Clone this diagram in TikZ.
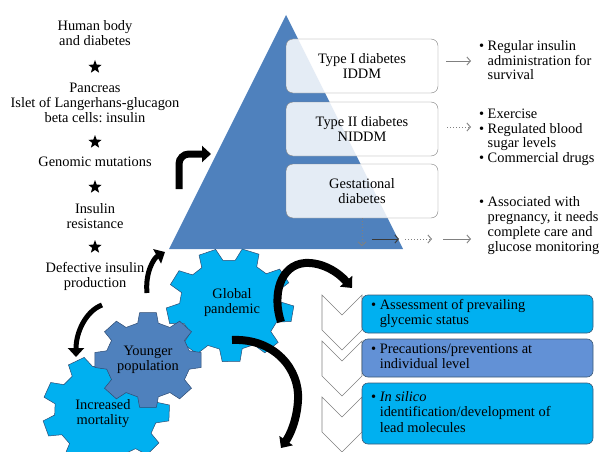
\documentclass[tikz,border=0pt]{standalone}
\usepackage{fontspec}
\setmainfont{Liberation Serif}
\usetikzlibrary{arrows.meta,shapes.geometric}
\definecolor{triblue}{RGB}{79,129,189}
\definecolor{lblue}{RGB}{0,176,240}
\definecolor{mblue}{RGB}{98,145,214}
\definecolor{gline}{RGB}{45,75,115}
\definecolor{boxline}{RGB}{60,90,120}
\frenchspacing
\begin{document}
\begin{tikzpicture}[x=1pt,y=-1pt,
  txt/.style={font=\fontsize{14.4}{15}\selectfont, align=center, inner sep=0pt},
  lst/.style={font=\fontsize{14.4}{14.7}\selectfont, inner sep=0pt, anchor=base west},
  starmark/.style={star, star points=5, star point ratio=2.4, fill=black, minimum size=14pt, inner sep=0pt},
  tbox/.style={draw=gray, fill=white, fill opacity=0.85, text opacity=1, rounded corners=7pt,
    minimum width=152pt, minimum height=54pt, align=center, inner sep=0pt,
    font=\fontsize{14.4}{15.5}\selectfont},
  bbox/.style={draw=boxline, line width=0.6pt, rounded corners=6pt, minimum width=231pt, inner sep=0pt,
    font=\fontsize{14.4}{15.5}\selectfont},
  chev/.style={draw=gray, fill=white, line width=0.6pt},
  garrow/.style={draw=gray, line width=0.9pt, -{Straight Barb[length=3.5pt,width=8pt]}},
  darrow/.style={garrow, dash pattern=on 1pt off 2pt},
  gearL/.style={fill=lblue, draw=gline, line width=0.5pt},
  gearD/.style={fill=triblue, draw=gline, line width=0.5pt},
  barrow/.style={draw=black, line width=#1, -{Triangle[length=9pt,width=16pt]}},
]
\useasboundingbox (0,0) rectangle (602,452);

% pyramid
\fill[triblue] (169,249) -- (286,15) -- (403,249) -- cycle;

% type boxes
\node[tbox] (ty1) at (362,66) {Type I diabetes\\IDDM};
\node[tbox] (ty2) at (362,129) {Type II diabetes\\NIDDM};
\node[tbox] (ty3) at (362,191) {Gestational\\diabetes};

% right arrows
\coordinate (a1s) at (446,61); \coordinate (a1e) at (471,61);
\draw[garrow] (a1s) -- (a1e);
\coordinate (a2s) at (447,127); \coordinate (a2e) at (471,127);
\draw[darrow] (a2s) -- (a2e);
\coordinate (a3e) at (362,246);
\draw[darrow] (ty3.south) -- (a3e);
\coordinate (a4s) at (372,239); \coordinate (a4e) at (399,239);
\draw[garrow, draw=gray!45!black] (a4s) -- (a4e);
\coordinate (a5s) at (405,239); \coordinate (a5e) at (432,239);
\draw[darrow] (a5s) -- (a5e);
\coordinate (a6s) at (443,239); \coordinate (a6e) at (471,239);
\draw[garrow] (a6s) -- (a6e);

% right lists
\node[lst] (r1) at (479,50.5) {\begin{tabular}[t]{@{}l@{\hspace{3.5pt}}l@{}}\textbullet & Regular insulin\\ & administration for\\ & survival\end{tabular}};
\node[lst] (r2) at (479,118.5) {\begin{tabular}[t]{@{}l@{\hspace{3.5pt}}l@{}}\textbullet & Exercise\\ \textbullet & Regulated blood\\ & sugar levels\\ \textbullet & Commercial drugs\end{tabular}};
\node[lst, font=\fontsize{14.4}{15}\selectfont] (r3) at (479,206.5) {\begin{tabular}[t]{@{}l@{\hspace{3.5pt}}l@{}}\textbullet & Associated with\\ & pregnancy, it needs\\ & complete care and\\ & glucose monitoring\end{tabular}};

% left column
\node[txt] (l1) at (95,33.5) {Human body\\and diabetes};
\node[starmark] (s1) at (95,67) {};
\node[txt] (l2) at (95,102.5) {Pancreas\\Islet of Langerhans-glucagon\\beta cells: insulin};
\node[starmark] (s2) at (95,142) {};
\node[txt] (l3) at (95,161.5) {Genomic mutations};
\node[starmark] (s3) at (95,187) {};
\node[txt] (l4) at (95,216) {Insulin\\resistance};
\node[starmark] (s4) at (95,247) {};
\node[txt] (l5) at (95,276) {Defective insulin\\production};

% chevrons
\draw[chev] (322,295) -- (342,315) -- (362,295) -- (362,330) -- (342,350) -- (322,330) -- cycle;
\draw[chev] (322,341) -- (342,361) -- (362,341) -- (362,376) -- (342,396) -- (322,376) -- cycle;
\draw[chev] (322,397) -- (342,417) -- (362,397) -- (362,432) -- (342,452) -- (322,432) -- cycle;

% bottom boxes
\node[bbox, fill=lblue, minimum height=38pt] (b1) at (477.5,314) {\begin{tabular}{@{}l@{\hspace{3.5pt}}p{204pt}@{}}\textbullet & Assessment of prevailing\\ & glycemic status\end{tabular}};
\node[bbox, fill=mblue, minimum height=38pt] (b2) at (477.5,358) {\begin{tabular}{@{}l@{\hspace{3.5pt}}p{204pt}@{}}\textbullet & Precautions/preventions at\\ & individual level\end{tabular}};
\node[bbox, fill=lblue, minimum height=61pt] (b3) at (477.5,413.5) {\begin{tabular}{@{}l@{\hspace{3.5pt}}p{204pt}@{}}\textbullet & \textit{In silico}\\ & identification/development of\\ & lead molecules\end{tabular}};

% gears
\begin{scope}[shift={(106,411)}, xscale=1.12]
\path[gearL] ({202-13}:46) \foreach \i in {0,...,8}{
  -- ({202+\i*40-13}:46) -- ({202+\i*40-8}:57) -- ({202+\i*40+8}:57) -- ({202+\i*40+13}:46)} -- cycle;
\end{scope}
\begin{scope}[shift={(230,305)}, xscale=1.12]
\path[gearL] ({9-13}:45) \foreach \i in {0,...,8}{
  -- ({9+\i*40-13}:45) -- ({9+\i*40-8}:57) -- ({9+\i*40+8}:57) -- ({9+\i*40+13}:45)} -- cycle;
\end{scope}
\begin{scope}[shift={(148,360)}, xscale=1.12]
\path[gearD] ({0-14}:38) \foreach \i in {0,...,7}{
  -- ({\i*45-14}:38) -- ({\i*45-9}:48) -- ({\i*45+9}:48) -- ({\i*45+14}:38)} -- cycle;
\end{scope}
\node[txt] (g1) at (232,303) {Global\\pandemic};
\node[txt] (g2) at (148,359.5) {Younger\\population};
\node[txt] (g3) at (103,413.5) {Increased\\mortality};

% black arrows
\coordinate (k1s) at (179,189); \coordinate (k1e) at (211,154);
\draw[barrow=7pt, rounded corners=10pt] (k1s) |- (k1e);
\coordinate (k2s) at (147,293); \coordinate (k2e) at (165,252);
\draw[barrow=5pt] (k2s) .. controls (145,272) and (154,258) .. (k2e);
\coordinate (k3s) at (102,305); \coordinate (k3e) at (76,357);
\draw[barrow=5pt] (k3s) .. controls (86,311) and (76,332) .. (k3e);
\coordinate (k4s) at (281,322); \coordinate (k4m) at (305,263); \coordinate (k4e) at (352,288);
\draw[barrow=8pt] (k4s) .. controls (272,295) and (280,265) .. (k4m) .. controls (322,262) and (338,272) .. (k4e);
\coordinate (k5s) at (232,340); \coordinate (k5m) at (298,400); \coordinate (k5e) at (281,448);
\draw[barrow=8pt] (k5s) .. controls (275,338) and (300,370) .. (k5m) .. controls (297,420) and (290,435) .. (k5e);
\end{tikzpicture}
\end{document}
